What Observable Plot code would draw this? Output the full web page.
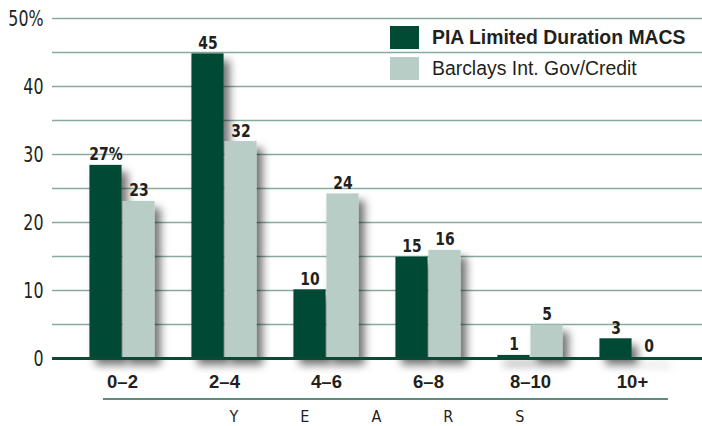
<!DOCTYPE html>
<html><head><meta charset="utf-8">
<script src="https://cdn.jsdelivr.net/npm/d3@7"></script>
<script src="https://cdn.jsdelivr.net/npm/@observablehq/plot@0.6"></script>
<style>
body{margin:0;background:#fff;}
#wrap{position:relative;width:702px;height:426px;overflow:hidden;font-family:"Liberation Sans",Arial,sans-serif;color:#231f20;}
#wrap svg{position:absolute;left:0;top:0;}
.lg{position:absolute;left:390px;width:29px;height:23px;}
.lt{position:absolute;left:432px;font-size:19.4px;line-height:23px;white-space:nowrap;}
#under{position:absolute;left:103px;top:398px;width:565px;height:0;border-top:2.5px solid #5e8d7b;}
#years{position:absolute;left:0;width:702px;top:407px;text-align:center;font-family:"DejaVu Sans Condensed",sans-serif;font-size:16px;letter-spacing:62px;padding-left:114px;box-sizing:border-box;color:#231f20;}
</style></head><body><div id="wrap"></div>
<script>
const groups = ["0–2","2–4","4–6","6–8","8–10","10+"];
const piaValues = [28.4,44.8,10.1,14.9,0.45,2.9];
const barclaysValues = [23.1,31.9,24.2,15.9,4.9,0.15];
const piaLabels = ["27%","45","10","15","1","3"];
const barclaysLabels = ["23","32","24","16","5","0"];
const yTicks = [0,10,20,30,40,50];
const gridValues = [5,10,15,20,25,30,35,40,45,50];
const seriesNames = ["PIA Limited Duration MACS","Barclays Int. Gov/Credit"];
const axisTitle = "YEARS";

const darkColor = "#014a34", lightColor = "#b8cdc6";
const pia = groups.map((g,i)=>({group:g,value:piaValues[i],label:piaLabels[i]}));
const barclays = groups.map((g,i)=>({group:g,value:barclaysValues[i],label:barclaysLabels[i]}));

const W=702,H=426,mL=52,mR=0,mT=18,mB=68;
const padOuter=0.16;
const step=(W-mL-mR)/(groups.length+2*padOuter);
const barW=33;
const edge=(step-2*barW)/2;
const narrow='"DejaVu Sans Condensed",sans-serif';

const chart = Plot.plot({
  width:W,height:H,marginLeft:mL,marginRight:mR,marginTop:mT,marginBottom:mB,
  style:{fontFamily:'"Liberation Sans",Arial,sans-serif',background:"transparent",color:"#231f20",overflow:"visible"},
  x:{domain:groups,paddingInner:0,paddingOuter:padOuter},
  y:{domain:[0,50]},
  marks:[
    Plot.ruleY(gridValues,{stroke:"#86aa9b",strokeWidth:1.5}),
    Plot.barY(pia,{x:"group",y:"value",fill:darkColor,insetLeft:edge,insetRight:edge+barW}),
    Plot.barY(barclays,{x:"group",y:"value",fill:lightColor,insetLeft:edge+barW,insetRight:edge}),
    Plot.ruleY([0],{stroke:"#0d4a36",strokeWidth:3}),
    Plot.text(pia,{x:"group",y:"value",text:"label",dx:-barW/2,dy:-5,lineAnchor:"bottom",fontWeight:"bold",fontSize:18,fontFamily:narrow,fill:"#231f20",className:"vlab"}),
    Plot.text(barclays,{x:"group",y:"value",text:"label",dx:barW/2,dy:-5,lineAnchor:"bottom",fontWeight:"bold",fontSize:18,fontFamily:narrow,fill:"#231f20",className:"vlab"}),
    Plot.axisY({ticks:yTicks,tickSize:0,tickPadding:9,fontSize:22,fontFamily:narrow,label:null,tickFormat:d=>d===50?"50%":String(d)}),
    Plot.axisX({tickSize:0,tickPadding:16,fontSize:18.5,fontWeight:"bold",label:null})
  ]
});

// drop shadow for bars
const svg = d3.select(chart);
const defs = svg.insert("defs",":first-child");
const f = defs.append("filter").attr("id","barShadow").attr("x","-20%").attr("y","-20%").attr("width","150%").attr("height","150%");
f.append("feDropShadow").attr("dx",6).attr("dy",7).attr("stdDeviation",4.5).attr("flood-color","#000").attr("flood-opacity",0.55);
svg.selectAll('g[aria-label="bar"]').attr("filter","url(#barShadow)");

const wrap = document.getElementById("wrap");
wrap.appendChild(chart);

// condense the tick and value labels to mimic a condensed face
const squeeze=(sel,k)=>svg.selectAll(sel).each(function(){const len=this.getComputedTextLength();if(len>0){this.setAttribute("textLength",len*k);this.setAttribute("lengthAdjust","spacingAndGlyphs");}});
squeeze('g[aria-label="y-axis tick label"] text',0.8);
squeeze('g.vlab text, .vlab text',0.86);

const addDiv=(cls,css,txt)=>{const d=document.createElement("div");if(cls)d.className=cls;Object.assign(d.style,css);if(txt!=null)d.textContent=txt;wrap.appendChild(d);return d;};
addDiv("lg",{top:"26px",background:darkColor});
addDiv("lt",{top:"26px",fontWeight:"bold"},seriesNames[0]);
addDiv("lg",{top:"57px",background:lightColor});
addDiv("lt",{top:"57px"},seriesNames[1]);
const u=addDiv(null,{});u.id="under";
const y=addDiv(null,{},axisTitle);y.id="years";
</script></body></html>
